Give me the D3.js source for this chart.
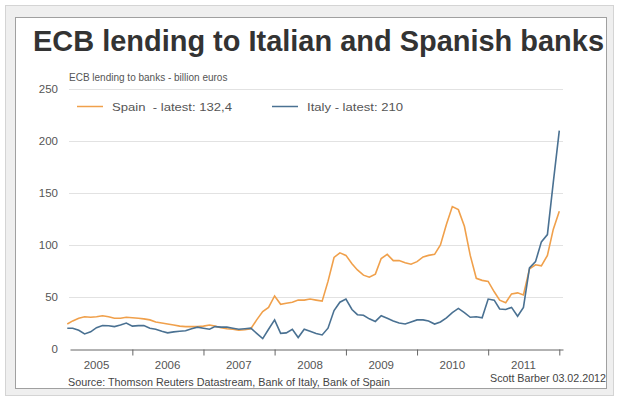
<!DOCTYPE html>
<html>
<head>
<meta charset="utf-8">
<script src="https://cdn.jsdelivr.net/npm/d3@7"></script>
<style>
  body { margin: 0; background: #fff; }
  svg { display: block; }
  text { font-family: "Liberation Sans", Arial, sans-serif; fill: #555; }
</style>
</head>
<body>
<svg width="619" height="397"></svg>
<script>
// monthly values, Feb 2005 - Jan 2012, billion euros
const spain = [24, 27, 29.5, 31, 30.5, 31, 32, 31, 29.5, 29.5, 30.5,
	30, 29.5, 29, 28, 26, 25, 24, 23, 22, 21.5, 21.5, 21.5,
	22, 23, 22, 20.5, 19.5, 19, 18, 18.5, 19.5, 28, 36, 40,
	51, 43, 44, 45, 47, 47, 48, 47, 46, 65, 88, 92.5,
	90, 82, 76, 71, 69, 72, 87, 91, 85, 85, 83, 81.5,
	84, 88.5, 90, 91, 100, 120, 137, 134, 118, 90, 68, 66,
	65, 55, 47, 44.5, 53, 54, 52, 77, 81, 80, 90, 115,
	132.4]
const italy = [20, 20, 18, 14.5, 16.5, 20.5, 22.5, 22.4, 21.5, 23, 25,
	22, 22.5, 22.5, 20, 19, 17, 15.5, 16.5, 17, 17.5, 19.5, 21,
	20, 19, 21.5, 21, 21, 20, 19, 19.5, 20, 15, 10, 19,
	28, 15, 15.5, 19, 11, 19, 17, 15, 13.5, 20, 37, 45,
	48, 38, 33, 32.5, 29, 26.5, 32, 29.5, 27, 25, 24, 26,
	28, 28, 27, 24, 26, 30, 35, 39, 35, 30.5, 31, 30,
	48, 47, 38.5, 38, 40, 31.5, 40, 78, 84, 103, 110, 160,
	210]
const years = [2005, 2006, 2007, 2008, 2009, 2010, 2011]
const yTicks = [0, 50, 100, 150, 200, 250]
const months = d3.timeMonth.range(new Date(2005, 1, 1), new Date(2012, 1, 1))

const svg = d3.select("svg")

// frame
svg.append("rect").attr("x", 5.5).attr("y", 5.5).attr("width", 608).attr("height", 390)
	.attr("fill", "#efefef").attr("stroke", "#d4d4d4")
svg.append("rect").attr("x", 15.5).attr("y", 17.5).attr("width", 591).attr("height", 371)
	.attr("fill", "#fff").attr("stroke", "#a0a0a0")

svg.append("text").attr("x", 33).attr("y", 51)
	.style("font-weight", "bold").style("font-size", "29px").style("fill", "#333")
	.attr("textLength", 571).attr("lengthAdjust", "spacingAndGlyphs")
	.text("ECB lending to Italian and Spanish banks")

const x = d3.scaleTime()
	.domain([new Date(2005, 1, 15), new Date(2012, 0, 20)])
	.range([70, 563])
const y = d3.scaleLinear().domain([0, 250]).range([349, 89])

// grid
svg.append("g").selectAll("line").data(yTicks.slice(1)).join("line")
	.attr("x1", 69).attr("x2", 563)
	.attr("y1", (d) => Math.round(y(d)) + 0.5).attr("y2", (d) => Math.round(y(d)) + 0.5)
	.attr("stroke", "#e2e2e2")

const yAxis = svg.append("g").attr("transform", "translate(58,0)")
	.call(d3.axisLeft(y).tickValues(yTicks).tickSize(0).tickPadding(0))
yAxis.select(".domain").remove()
yAxis.selectAll("text").style("font-size", "11.5px").style("font-family", null)

const xAxis = svg.append("g").attr("transform", "translate(0,349.5)")
	.call(d3.axisBottom(x)
		.tickValues(years.slice(1).map((yr) => new Date(yr, 0, 1)).concat([new Date(2012, 0, 1)]))
		.tickFormat("").tickSize(6).tickSizeOuter(0))
xAxis.select(".domain").attr("stroke", "#666")
xAxis.selectAll(".tick line").attr("stroke", "#666")

svg.append("g").selectAll("text").data(years).join("text")
	.attr("x", (d) => x(new Date(d, 6, 1)))
	.attr("y", 369)
	.attr("text-anchor", "middle")
	.style("font-size", "11.5px")
	.text((d) => d)

svg.append("text").attr("x", 69).attr("y", 81).style("font-size", "10px")
	.text("ECB lending to banks - billion euros")

// lines
const line = d3.line()
	.x((d, i) => x(months[i]))
	.y((d) => y(d))

svg.append("path").datum(spain).attr("d", line)
	.attr("fill", "none").attr("stroke", "#f0a04b").attr("stroke-width", 1.6)
svg.append("path").datum(italy).attr("d", line)
	.attr("fill", "none").attr("stroke", "#4a7192").attr("stroke-width", 1.6)

// legend
const legend = [
	{ label: "Spain  - latest: 132,4", color: "#f0a04b", x: 77, w: 120 },
	{ label: "Italy - latest: 210", color: "#4a7192", x: 272, w: 96 },
]
const lg = svg.append("g").selectAll("g").data(legend).join("g")
	.attr("transform", (d) => `translate(${d.x}, 106.5)`)
lg.append("line").attr("x1", 0).attr("x2", 26).attr("stroke", (d) => d.color).attr("stroke-width", 1.5)
lg.append("text").attr("x", 35).attr("y", 4).style("font-size", "11.5px")
	.style("white-space", "pre")
	.attr("textLength", (d) => d.w).attr("lengthAdjust", "spacingAndGlyphs")
	.text((d) => d.label)

svg.append("text").attr("x", 68).attr("y", 386).style("font-size", "10.5px").style("fill", "#444")
	.attr("textLength", 322).attr("lengthAdjust", "spacingAndGlyphs")
	.text("Source: Thomson Reuters Datastream, Bank of Italy, Bank of Spain")
svg.append("text").attr("x", 606).attr("y", 382).attr("text-anchor", "end")
	.style("font-size", "10.5px").style("fill", "#444")
	.attr("textLength", 116).attr("lengthAdjust", "spacingAndGlyphs")
	.text("Scott Barber 03.02.2012")
</script>
</body>
</html>
